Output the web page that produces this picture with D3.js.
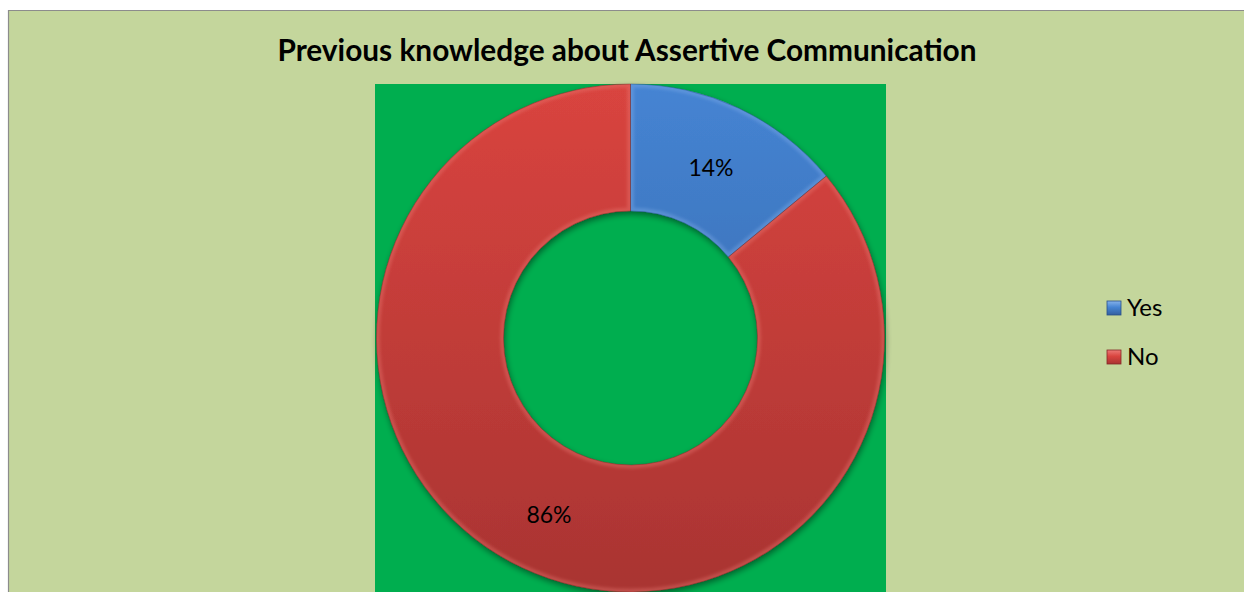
<!DOCTYPE html>
<html>
<head>
<meta charset="utf-8">
<script src="https://cdn.jsdelivr.net/npm/d3@7"></script>
<style>
  html, body { margin: 0; padding: 0; background: #ffffff; overflow: hidden; }
  svg { display: block; }
</style>
</head>
<body>
<svg id="chart" width="1244" height="592"></svg>
<script>
// Survey answers: previous knowledge about assertive communication
const categories = ["Yes", "No"];
const shares = [14, 86];
const labels = ["14%", "86%"];
const title = "Previous knowledge about Assertive Communication";

const W = 1244, H = 592;
const svg = d3.select("#chart");
const defs = svg.append("defs");

const palette = {
  Yes: { light: "#4584d3", dark: "#34609f", edge: "#2a5088", hi: "#86b2ea" },
  No:  { light: "#d9443f", dark: "#a93432", edge: "#842826", hi: "#ec7a76" }
};

categories.forEach(c => {
  const g = defs.append("linearGradient")
    .attr("id", "grad-" + c)
    .attr("gradientUnits", "userSpaceOnUse")
    .attr("x1", 0).attr("y1", -254).attr("x2", 0).attr("y2", 254);
  g.append("stop").attr("offset", "0%").attr("stop-color", palette[c].light);
  g.append("stop").attr("offset", "100%").attr("stop-color", palette[c].dark);
});

// soft blur for bevel highlights and the drop shadow
defs.append("filter").attr("id", "soft").attr("x", "-10%").attr("y", "-10%").attr("width", "120%").attr("height", "120%")
  .append("feGaussianBlur").attr("stdDeviation", 1.4);
const shadow = defs.append("filter").attr("id", "shadow").attr("x", "-10%").attr("y", "-10%").attr("width", "120%").attr("height", "120%");
shadow.append("feGaussianBlur").attr("in", "SourceAlpha").attr("stdDeviation", 3);
shadow.append("feOffset").attr("dx", 1).attr("dy", 3).attr("result", "b");
shadow.append("feComponentTransfer").append("feFuncA").attr("type", "linear").attr("slope", 0.45);
const merge = shadow.append("feMerge");
merge.append("feMergeNode");
merge.append("feMergeNode").attr("in", "SourceGraphic");

// chart area: fill plus the visible left and top border lines
svg.append("rect").attr("x", 8).attr("y", 10).attr("width", W).attr("height", H)
  .attr("fill", "#c4d69c");
svg.append("path").attr("d", `M8.5,${H} V10.5 H${W + 20}`)
  .attr("fill", "none").attr("stroke", "#8c8c8c").attr("stroke-width", 1.2);

svg.append("text")
  .attr("x", 627).attr("y", 61)
  .attr("text-anchor", "middle")
  .attr("font-family", "Lato, 'Open Sans', sans-serif")
  .attr("font-weight", "bold")
  .attr("font-size", 29.8)
  .attr("fill", "#000")
  .text(title);

// plot area
const plot = { x: 375, y: 84, w: 511, h: 520 };
svg.append("rect").attr("x", plot.x).attr("y", plot.y).attr("width", plot.w).attr("height", plot.h)
  .attr("fill", "#00ae4f");

const cx = 630.5, cy = 338;
const rOuter = 254, rInner = 127;

const pie = d3.pie().sort(null).value(d => d.value);
const arcs = pie(categories.map((c, i) => ({ cat: c, value: shares[i], label: labels[i] })));
const arc = d3.arc().innerRadius(rInner).outerRadius(rOuter);

const ring = svg.append("g").attr("transform", `translate(${cx},${cy})`);

const sliceG = ring.append("g").attr("filter", "url(#shadow)");
arcs.forEach(a => {
  const c = a.data.cat;
  defs.append("clipPath").attr("id", "clip-" + c)
    .append("path").attr("d", arc(a));
  sliceG.append("path").attr("d", arc(a)).attr("fill", `url(#grad-${c})`);
});

// bevel: light rim along each slice edge, clipped to the slice
arcs.forEach(a => {
  const c = a.data.cat;
  ring.append("g").attr("clip-path", `url(#clip-${c})`)
    .append("path")
    .attr("d", arc(a))
    .attr("fill", "none")
    .attr("stroke", palette[c].hi)
    .attr("stroke-opacity", 0.35)
    .attr("stroke-width", 7)
    .attr("filter", "url(#soft)");
  ring.append("path")
    .attr("d", arc(a))
    .attr("fill", "none")
    .attr("stroke", palette[c].edge)
    .attr("stroke-opacity", 0.55)
    .attr("stroke-width", 0.8);
});

// value labels
const labelPos = [[711, 168], [549, 515]];
arcs.forEach((a, i) => {
  svg.append("text")
    .attr("x", labelPos[i][0]).attr("y", labelPos[i][1] + 8)
    .attr("text-anchor", "middle")
    .attr("font-family", "Lato, 'Open Sans', sans-serif")
    .attr("font-size", 23)
    .attr("fill", "#000")
    .text(a.data.label);
});

// legend
const legend = svg.append("g").attr("transform", "translate(1107,300)");
categories.forEach((c, i) => {
  const lg = defs.append("linearGradient").attr("id", "lg-" + c).attr("x1", 0).attr("y1", 0).attr("x2", 0).attr("y2", 1);
  lg.append("stop").attr("offset", "0%").attr("stop-color", palette[c].hi);
  lg.append("stop").attr("offset", "45%").attr("stop-color", palette[c].light);
  lg.append("stop").attr("offset", "100%").attr("stop-color", palette[c].dark);
  const g = legend.append("g").attr("transform", `translate(0,${i * 49})`);
  g.append("rect").attr("x", 0).attr("y", 1).attr("width", 14).attr("height", 14)
    .attr("fill", `url(#lg-${c})`).attr("stroke", palette[c].edge).attr("stroke-width", 0.8);
  g.append("text").attr("x", 20).attr("y", 16)
    .attr("font-family", "Lato, 'Open Sans', sans-serif")
    .attr("font-size", 24)
    .attr("fill", "#000")
    .text(c);
});
</script>
</body>
</html>
